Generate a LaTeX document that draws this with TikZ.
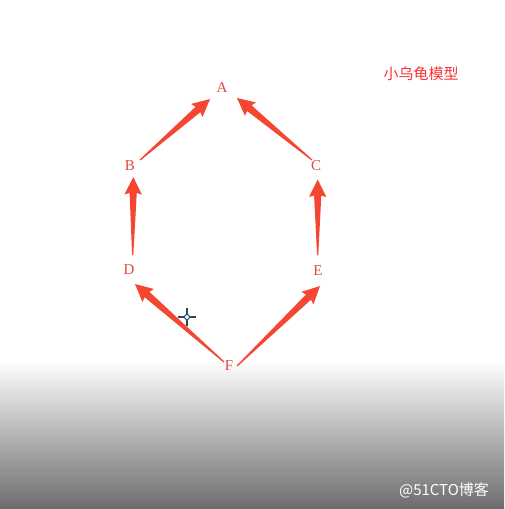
\documentclass[tikz,border=0pt]{standalone}
\usepackage{fontspec}
\setmainfont{Liberation Serif}
\newfontfamily\cjk{Noto Sans CJK SC}
\usetikzlibrary{calc}
\definecolor{arrred}{RGB}{245,70,50}
\definecolor{letred}{RGB}{222,72,62}
\definecolor{titred}{RGB}{250,50,50}
\definecolor{botgray}{RGB}{108,108,108}
\definecolor{midgray}{RGB}{170,170,170}
\definecolor{curs}{RGB}{30,75,105}
\tikzset{
  letter/.style={text=letred, font=\fontsize{15}{15}\selectfont, inner sep=0pt},
}
% tapered wedge arrow from coordinate #1 (tail) to coordinate #2 (tip)
\newcommand\fatarr[2]{%
  \path (#1) coordinate (tl) (#2) coordinate (tp);
  \path ($(tp)!17.5pt!(tl)$) coordinate (bb) ($(tp)!16pt!(tl)$) coordinate (nk);
  \fill[arrred] (tp) -- ($(bb)!8.7pt!90:(tp)$) -- ($(nk)!3.6pt!90:(tp)$)
     -- ($(tl)!0.6pt!90:(tp)$) -- ($(tl)!0.6pt!-90:(tp)$)
     -- ($(nk)!3.6pt!-90:(tp)$) -- ($(bb)!8.7pt!-90:(tp)$) -- cycle;}
\begin{document}
\begin{tikzpicture}[x=1pt,y=-1pt]
\useasboundingbox (0,0) rectangle (504,509);
\fill[white] (0,0) rectangle (504,360);
\shade[top color=white, middle color=midgray, bottom color=botgray] (0,360) rectangle (504,509);
\node[letter] (A) at (222,88) {A};
\node[letter] (B) at (130,166) {B};
\node[letter] (C) at (316,166) {C};
\node[letter] (D) at (129,270) {D};
\node[letter] (E) at (318,271) {E};
\node[letter] (F) at (229,366) {F};
\fatarr{$(B)+(10,-6)$}{$(A)+(-12,11)$}
\fatarr{$(C)+(-4,-6)$}{$(A)+(15,10)$}
\fatarr{$(D)+(3.7,-15)$}{$(B)+(3.3,11)$}
\fatarr{$(E)+(-0.3,-16)$}{$(C)+(1.7,13.5)$}
\fatarr{$(F)+(-5,-4)$}{$(D)+(6,14)$}
\fatarr{$(F)+(8,0)$}{$(E)+(2,15)$}
\node[text=titred, font=\cjk\fontsize{15}{15}\selectfont, inner sep=0pt] (title) at (421,74) {小乌龟模型};
\node[text=white, font=\cjk\fontsize{15}{15}\selectfont, inner sep=0pt] (wm) at (444,490) {@51CTO博客};
\coordinate (cur) at (187,317);
\draw[curs, line width=1.2pt] ($(cur)+(-9,0)$) -- ($(cur)+(9,0)$) ($(cur)+(0,-9)$) -- ($(cur)+(0,9)$);
\draw[curs, fill=white, line width=1pt] (cur) circle (2.5);
\end{tikzpicture}
\end{document}
